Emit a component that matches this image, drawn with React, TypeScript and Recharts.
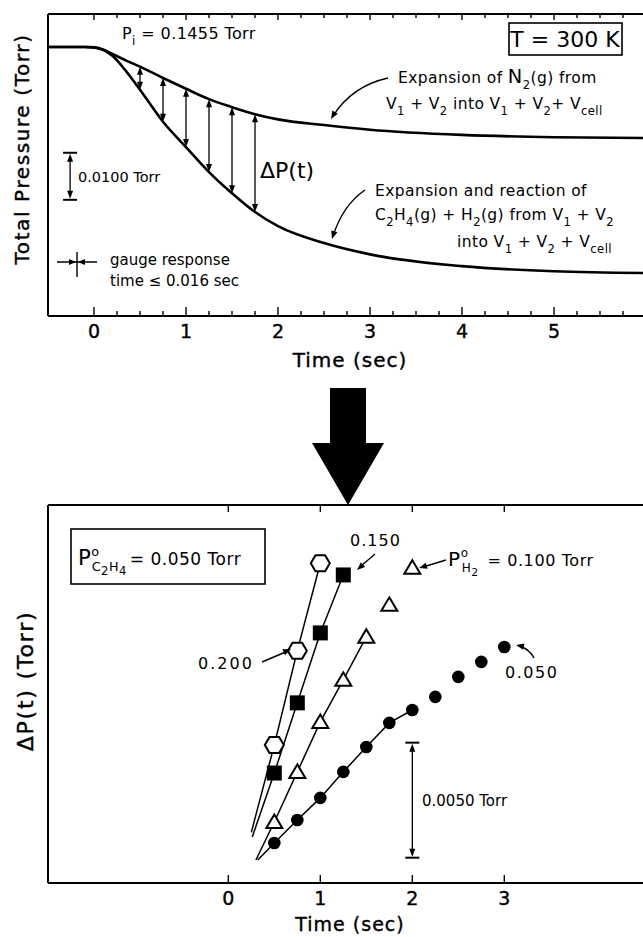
import React from "react";
import { ComposedChart, Line, Scatter, XAxis, YAxis, ReferenceLine } from "recharts";

const FONT = '"DejaVu Sans", "Liberation Sans", sans-serif';
const INK = "#000";

// ---- upper panel: total pressure after opening the cell ----
const traceTimes = [-0.5, -0.25, -0.1, 0, 0.1, 0.2, 0.35, 0.5, 0.75, 1, 1.25, 1.5, 1.75, 2, 2.5, 3, 4, 5, 6.1];
const n2Pressure = [0.1455, 0.1455, 0.1455, 0.1454, 0.1449, 0.144, 0.1426, 0.1413, 0.1389, 0.1366, 0.1344, 0.1327, 0.1312, 0.1301, 0.1289, 0.1279, 0.1268, 0.1263, 0.1261];
const reactionPressure = [0.1455, 0.1455, 0.1455, 0.1454, 0.1449, 0.1436, 0.1403, 0.1364, 0.1296, 0.1242, 0.1189, 0.1144, 0.1104, 0.1074, 0.1038, 0.1014, 0.0989, 0.0978, 0.0974];
const deltaArrowTimes = [0.5, 0.75, 1, 1.25, 1.5, 1.75];
const topTickLabels = [0, 1, 2, 3, 4, 5];

// 0.0100 Torr scale bar (time, lower, upper)
const pressureBar = { t: -0.26, lo: 0.113, hi: 0.123 };

// ---- lower panel: ΔP(t) for several H2 pressures ----
const runTimes = [0.5, 0.75, 1, 1.25, 1.5, 1.75, 2, 2.25, 2.5, 2.75, 3];
const deltaH2_200 = [0.006, 0.0101, 0.0139];
const deltaH2_150 = [0.00478, 0.00783, 0.01087, 0.01339];
const deltaH2_100 = [0.00265, 0.00483, 0.007, 0.00883, 0.0107, 0.01209, 0.0137];
const deltaH2_050 = [0.00174, 0.00274, 0.0037, 0.00483, 0.00591, 0.00696, 0.00752, 0.00809, 0.00896, 0.00961, 0.01026];
// straight fits: where each line starts near t = 0 and how many points it runs through
const fitStartTime = [0.25, 0.26, 0.3, 0.32];
const fitStartDelta = [0.0022, 0.002, 0.001, 0.001];
const fitPointCount = [3, 4, 5, 7];
const bottomTickLabels = [0, 1, 2, 3];

// 0.0050 Torr scale bar
const deltaBar = { t: 2, lo: 0.0011, hi: 0.0061 };

const toPoints = (ts: number[], vs: number[]) => vs.map((v, i) => ({ t: ts[i], v }));

const n2Series = toPoints(traceTimes, n2Pressure);
const reactionSeries = toPoints(traceTimes, reactionPressure);
const deltaArrows = deltaArrowTimes.map((t) => {
  const i = traceTimes.indexOf(t);
  return { t, hi: n2Pressure[i], lo: reactionPressure[i] };
});

const runs = [deltaH2_200, deltaH2_150, deltaH2_100, deltaH2_050].map((vals) => toPoints(runTimes, vals));
const fits = runs.map((pts, i) => [{ t: fitStartTime[i], v: fitStartDelta[i] }, ...pts.slice(0, fitPointCount[i])]);

const topTicks: number[] = [];
for (let k = 0; k <= 24; k++) topTicks.push(k * 0.25);

// ---------- shapes ----------
const head = (x: number, y: number, dx: number, dy: number, len = 8, w = 3.2) => {
  const m = Math.hypot(dx, dy) || 1;
  const ux = dx / m, uy = dy / m;
  const bx = x - ux * len, by = y - uy * len;
  return `${x},${y} ${bx - uy * w},${by + ux * w} ${bx + uy * w},${by - ux * w}`;
};

const DoubleArrow = (p: any) => {
  const top = Math.min(p.y1, p.y2);
  const bot = Math.max(p.y1, p.y2);
  const x = p.x1;
  return (
    <g>
      <line x1={x} y1={top + 4} x2={x} y2={bot - 4} stroke={INK} strokeWidth={1.3} />
      <polygon points={head(x, top, 0, -1, 8, 3)} fill={INK} />
      <polygon points={head(x, bot, 0, 1, 8, 3)} fill={INK} />
    </g>
  );
};

const ScaleBar = (p: any) => {
  const top = Math.min(p.y1, p.y2);
  const bot = Math.max(p.y1, p.y2);
  const x = p.x1;
  return (
    <g>
      <line x1={x - 7} y1={top} x2={x + 7} y2={top} stroke={INK} strokeWidth={2} />
      <line x1={x - 7} y1={bot} x2={x + 7} y2={bot} stroke={INK} strokeWidth={2} />
      <line x1={x} y1={top + 4} x2={x} y2={bot - 4} stroke={INK} strokeWidth={1.3} />
      <polygon points={head(x, top + 1, 0, -1, 8, 3)} fill={INK} />
      <polygon points={head(x, bot - 1, 0, 1, 8, 3)} fill={INK} />
    </g>
  );
};

const Hexagon = (p: any) => {
  const { cx, cy } = p;
  const pts = [[-9.5, 0], [-4.8, -8], [4.8, -8], [9.5, 0], [4.8, 8], [-4.8, 8]].map(([a, b]) => `${cx + a},${cy + b}`).join(" ");
  return <polygon points={pts} fill="#fff" stroke={INK} strokeWidth={2} />;
};
const Square = (p: any) => <rect x={p.cx - 7.5} y={p.cy - 7.5} width={15} height={15} fill={INK} />;
const Triangle = (p: any) => {
  const { cx, cy } = p;
  return <polygon points={`${cx},${cy - 7.5} ${cx + 8},${cy + 6} ${cx - 8},${cy + 6}`} fill="#fff" stroke={INK} strokeWidth={2} />;
};
const Dot = (p: any) => <circle cx={p.cx} cy={p.cy} r={6.3} fill={INK} />;
const markerShapes = [Hexagon, Square, Triangle, Dot];

// axis ticks drawn inward, labels only on whole seconds
const makeTick = (major: number, minor: number, labels: number[], labelDy: number) => (p: any) => {
  const v = p.payload.value;
  const isMajor = Number.isInteger(v);
  const len = isMajor ? major : minor;
  const dir = p.orientation === "top" ? 1 : -1;
  return (
    <g>
      <line x1={p.x} y1={p.y} x2={p.x} y2={p.y + dir * len} stroke={INK} strokeWidth={1.4} />
      {dir < 0 && labels.includes(v) && (
        <text x={p.x} y={p.y + labelDy} textAnchor="middle" fontSize={19} fontFamily={FONT} fill={INK} stroke={INK} strokeWidth={0.4}>
          {v}
        </text>
      )}
    </g>
  );
};

// ---------- text helpers ----------
type Part = [string, string?, number?];
const Rich = ({ x, y, size, parts, anchor = "start", spacing = 0.4 }: { x: number; y: number; size: number; parts: Part[]; anchor?: string; spacing?: number }) => {
  let cur = 0;
  return (
    <text x={x} y={y} fontSize={size} fontFamily={FONT} fill={INK} textAnchor={anchor as any} letterSpacing={spacing}>
      {parts.map(([s, kind, dx], i) => {
        const target = kind === "sub" ? size * 0.38 : kind === "sub2" ? size * 0.6 : kind === "sup" ? -size * 0.55 : 0;
        const fs = kind === "big" ? size * 1.25 : kind === "sub" || kind === "sup" ? size * 0.75 : kind === "sub2" ? size * 0.68 : size;
        const dy = target - cur;
        cur = target;
        return (
          <tspan key={i} dy={dy} dx={dx ?? 0} fontSize={fs}>
            {s}
          </tspan>
        );
      })}
    </text>
  );
};

const Arrow = ({ d, tip, from }: { d: string; tip: [number, number]; from: [number, number] }) => (
  <g>
    <path d={d} fill="none" stroke={INK} strokeWidth={1.4} />
    <polygon points={head(tip[0], tip[1], tip[0] - from[0], tip[1] - from[1], 8, 3.2)} fill={INK} />
  </g>
);

const axisLine = { stroke: INK, strokeWidth: 2 };

const TopPanel = () => (
  <ComposedChart width={660} height={380} margin={{ top: 13, right: 4.8, bottom: 63, left: 47 }}>
    <XAxis xAxisId="b" type="number" dataKey="t" domain={[-0.5, 6.1]} allowDataOverflow ticks={topTicks} interval={0} height={1} axisLine={axisLine} tickLine={false} tickSize={0} tickMargin={0} tick={makeTick(9, 5, topTickLabels, 22)} />
    <XAxis xAxisId="t" orientation="top" type="number" dataKey="t" domain={[-0.5, 6.1]} allowDataOverflow ticks={topTicks} interval={0} height={1} axisLine={axisLine} tickLine={false} tickSize={0} tickMargin={0} tick={makeTick(6, 4, [], 0)} />
    <YAxis yAxisId="p" type="number" dataKey="v" domain={[0.0883, 0.1525]} allowDataOverflow width={1} tick={false} tickLine={false} axisLine={axisLine} />
    <Line xAxisId="b" yAxisId="p" data={n2Series} dataKey="v" type="monotone" stroke={INK} strokeWidth={2.6} dot={false} isAnimationActive={false} />
    <Line xAxisId="b" yAxisId="p" data={reactionSeries} dataKey="v" type="monotone" stroke={INK} strokeWidth={2.6} dot={false} isAnimationActive={false} />
    {deltaArrows.map((a) => (
      <ReferenceLine key={a.t} xAxisId="b" yAxisId="p" segment={[{ x: a.t, y: a.hi }, { x: a.t, y: a.lo }]} shape={DoubleArrow} />
    ))}
    <ReferenceLine xAxisId="b" yAxisId="p" segment={[{ x: pressureBar.t, y: pressureBar.hi }, { x: pressureBar.t, y: pressureBar.lo }]} shape={ScaleBar} />
  </ComposedChart>
);

const BottomPanel = () => (
  <ComposedChart width={660} height={497} margin={{ top: 64, right: 8.5, bottom: 53, left: 47 }}>
    <XAxis xAxisId="b" type="number" dataKey="t" domain={[-1.96, 4.6]} allowDataOverflow ticks={bottomTickLabels} interval={0} height={1} axisLine={axisLine} tickLine={false} tickSize={0} tickMargin={0} tick={makeTick(8, 8, bottomTickLabels, 22)} />
    <XAxis xAxisId="t" orientation="top" type="number" dataKey="t" domain={[-1.96, 4.6]} allowDataOverflow ticks={bottomTickLabels} interval={0} height={1} axisLine={axisLine} tickLine={false} tickSize={0} tickMargin={0} tick={makeTick(7, 7, [], 0)} />
    <YAxis yAxisId="d" type="number" dataKey="v" domain={[0, 0.01643]} allowDataOverflow width={1} tick={false} tickLine={false} axisLine={axisLine} />
    {fits.map((pts, i) => (
      <Line key={`fit${i}`} xAxisId="b" yAxisId="d" data={pts} dataKey="v" type="linear" stroke={INK} strokeWidth={1.5} dot={false} isAnimationActive={false} />
    ))}
    {runs.map((pts, i) => (
      <Scatter key={`run${i}`} xAxisId="b" yAxisId="d" data={pts} dataKey="v" shape={markerShapes[i]} isAnimationActive={false} />
    ))}
    <ReferenceLine xAxisId="b" yAxisId="d" segment={[{ x: deltaBar.t, y: deltaBar.hi }, { x: deltaBar.t, y: deltaBar.lo }]} shape={ScaleBar} />
  </ComposedChart>
);

const Labels = () => (
  <svg width={643} height={937} style={{ position: "absolute", left: 0, top: 0, pointerEvents: "none" }}>
    {/* upper panel */}
    <text x={29} y={149} transform="rotate(-90 29 149)" textAnchor="middle" fontSize={20} fontFamily={FONT} fill={INK} stroke={INK} strokeWidth={0.4} letterSpacing={1.6}>
      Total  Pressure  (Torr)
    </text>
    <Rich x={122} y={39} size={16} parts={[["P"], ["i", "sub"], [" = 0.1455 Torr"]]} />
    <rect x={509} y={23} width={113} height={32} fill="none" stroke={INK} strokeWidth={1.6} />
    <text x={565} y={47} textAnchor="middle" fontSize={22} fontFamily={FONT} fill={INK}>T = 300 K</text>
    <Rich x={398} y={83} size={15.5} parts={[["Expansion of "], ["N", "big"], ["2", "sub"], ["(g) from"]]} />
    <Rich x={386} y={109} size={15.5} parts={[["V"], ["1", "sub"], [" + V"], ["2", "sub"], [" into V"], ["1", "sub"], [" + V"], ["2", "sub"], ["+ V"], ["cell", "sub"]]} />
    <text x={260} y={178} fontSize={22} fontFamily={FONT} fill={INK}>ΔP(t)</text>
    <Rich x={375} y={196} size={15.5} parts={[["Expansion and reaction of"]]} />
    <Rich x={375} y={220} size={15.5} parts={[["C"], ["2", "sub"], ["H"], ["4", "sub"], ["(g) + H"], ["2", "sub"], ["(g) from V"], ["1", "sub"], [" + V"], ["2", "sub"]]} />
    <Rich x={457} y={247} size={15.5} parts={[["into V"], ["1", "sub"], [" + V"], ["2", "sub"], [" + V"], ["cell", "sub"]]} />
    <Arrow d="M388,78 Q352,86 333,116" tip={[331, 119]} from={[338, 107]} />
    <Arrow d="M365,190 Q343,205 333,236" tip={[332, 239]} from={[336, 226]} />
    <text x={78} y={182} fontSize={14.5} fontFamily={FONT} fill={INK}>0.0100 Torr</text>
    {/* gauge response time marker */}
    <line x1={77} y1={252} x2={77} y2={277} stroke={INK} strokeWidth={1.4} />
    <line x1={57} y1={262} x2={97} y2={262} stroke={INK} strokeWidth={1.4} />
    <polygon points={head(76, 262, 1, 0, 7, 3)} fill={INK} />
    <polygon points={head(78, 262, -1, 0, 7, 3)} fill={INK} />
    <text x={110} y={265} fontSize={15} fontFamily={FONT} fill={INK}>gauge response</text>
    <text x={110} y={286} fontSize={15} fontFamily={FONT} fill={INK}>time ≤ 0.016 sec</text>
    <text x={350} y={367} textAnchor="middle" fontSize={20} fontFamily={FONT} fill={INK} stroke={INK} strokeWidth={0.4} letterSpacing={1}>Time (sec)</text>

    {/* transition arrow */}
    <polygon points="330,388 366,388 366,443 384,443 348,505 312,443 330,443" fill={INK} />

    {/* lower panel */}
    <text x={33} y={681} transform="rotate(-90 33 681)" textAnchor="middle" fontSize={22} fontFamily={FONT} fill={INK} stroke={INK} strokeWidth={0.4} letterSpacing={1.8}>
      ΔP(t)  (Torr)
    </text>
    <rect x={71} y={529} width={194} height={55} fill="none" stroke={INK} strokeWidth={1.6} />
    <Rich x={78} y={565} size={17} spacing={0.5} parts={[["P", "big"], ["o", "sup"], ["C", "sub", -8], ["2", "sub2"], ["H", "sub"], ["4", "sub2"], ["= 0.050 Torr", undefined, 3]]} />
    <text x={198} y={669} fontSize={16} fontFamily={FONT} fill={INK} letterSpacing={2}>0.200</text>
    <Arrow d="M262,662 L288,651" tip={[291, 649]} from={[262, 662]} />
    <text x={350} y={546} fontSize={16} fontFamily={FONT} fill={INK} letterSpacing={1}>0.150</text>
    <Arrow d="M375,554 L361,566" tip={[357, 570]} from={[375, 554]} />
    <Rich x={448} y={566} size={16} spacing={0.6} parts={[["P", "big"], ["o", "sup"], ["H", "sub", -7], ["2", "sub2"], [" = 0.100 Torr", undefined, 3]]} />
    <Arrow d="M446,560 L423,567" tip={[419, 568]} from={[446, 560]} />
    <text x={505} y={678} fontSize={16} fontFamily={FONT} fill={INK} letterSpacing={1.5}>0.050</text>
    <Arrow d="M534,658 Q530,650 520,646" tip={[516, 645]} from={[525, 647]} />
    <text x={422} y={806} fontSize={15} fontFamily={FONT} fill={INK}>0.0050 Torr</text>
    <text x={350} y={931} textAnchor="middle" fontSize={19} fontFamily={FONT} fill={INK} stroke={INK} strokeWidth={0.4} letterSpacing={1}>Time (sec)</text>
  </svg>
);

export default function App() {
  return (
    <div style={{ position: "absolute", left: 0, top: 0, width: 643, height: 937, overflow: "hidden", background: "#fff", fontFamily: FONT }}>
      <div style={{ position: "absolute", left: 0, top: 0 }}>
        <TopPanel />
      </div>
      <div style={{ position: "absolute", left: 0, top: 440 }}>
        <BottomPanel />
      </div>
      <Labels />
    </div>
  );
}
